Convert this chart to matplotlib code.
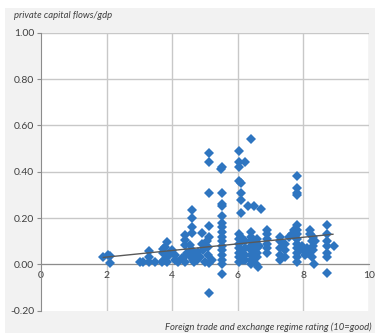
import numpy as np
import matplotlib
matplotlib.use("Agg")
from matplotlib import pyplot as plt
from matplotlib.patches import Rectangle

# trade regime rating (x) vs private capital flows / gdp (y), grouped by column
x_rating = [
    1.90, 2.05, 2.10, 2.10,
    3.02, 3.12, 3.30, 3.30, 3.30, 3.48, 3.68, 3.73, 3.78, 3.83, 3.72, 3.83, 3.93, 3.85, 3.75, 3.90, 4.00, 4.09, 4.19, 4.29, 4.10,
    4.39, 4.39, 4.39, 4.35, 4.40, 4.45,
    4.59, 4.59, 4.59, 4.59, 4.55, 4.59, 4.55, 4.65, 4.62, 4.70,
    4.80, 4.90, 4.85, 5.00, 4.95, 4.75, 4.90,
    5.12, 5.12, 5.12, 5.12, 5.12, 5.10, 5.10, 5.20, 5.12, 5.12, 5.05,
    5.51, 5.49, 5.51, 5.51, 5.51, 5.51, 5.51, 5.51, 5.51, 5.51, 5.51, 5.51, 5.51, 5.51, 5.51, 5.51, 5.51,
    6.03, 6.03, 6.03, 6.23, 6.41, 6.03, 6.10, 6.10, 6.10, 6.10, 6.30, 6.50, 6.71,
    6.03, 6.03, 6.03, 6.03, 6.03, 6.03, 6.03, 6.10, 6.10, 6.15,
    6.23, 6.23, 6.23, 6.23, 6.41, 6.41, 6.41, 6.41, 6.41, 6.41, 6.41, 6.41,
    6.60, 6.60, 6.60, 6.60, 6.60, 6.63, 6.55, 6.65,
    6.90, 6.90, 6.90, 6.90, 6.90, 6.90,
    7.30, 7.30, 7.30, 7.30, 7.30, 7.45, 7.45, 7.45, 7.55, 7.65, 7.70,
    7.80, 7.80, 7.80, 7.80, 7.80, 7.80, 7.80, 7.80, 7.80, 7.80, 7.80, 7.80, 7.80, 7.75,
    7.95, 8.00, 8.05, 8.10, 8.15, 8.20, 8.20, 8.25, 8.30, 8.30, 8.30, 8.35, 8.31, 8.25,
    8.72, 8.72, 8.72, 8.72, 8.72, 8.72, 8.93, 8.72,
]
y_flows = [
    0.033, 0.040, 0.035, 0.004,
    0.010, 0.010, 0.057, 0.033, 0.010, 0.010, 0.010, 0.047, 0.076, 0.098, 0.065, 0.030, 0.055, 0.010, 0.020, 0.040, 0.060, 0.040, 0.010, 0.026, 0.020,
    0.127, 0.105, 0.085, 0.030, 0.010, 0.050,
    0.235, 0.200, 0.160, 0.134, 0.083, 0.060, 0.035, 0.010, 0.020, 0.045,
    0.055, 0.134, 0.030, 0.010, 0.060, 0.020, 0.090,
    0.480, 0.440, 0.310, 0.165, 0.120, 0.075, 0.040, 0.020, 0.005, -0.125, 0.100,
    0.420, 0.410, 0.310, 0.260, 0.250, 0.210, 0.180, 0.160, 0.140, 0.120, 0.100, 0.080, 0.060, 0.040, 0.020, 0.000, -0.040,
    0.490, 0.440, 0.420, 0.440, 0.540, 0.360, 0.350, 0.310, 0.280, 0.220, 0.250, 0.250, 0.240,
    0.130, 0.110, 0.090, 0.070, 0.050, 0.030, 0.010, 0.120, 0.060, 0.020,
    0.100, 0.070, 0.040, 0.020, 0.140, 0.120, 0.100, 0.080, 0.060, 0.040, 0.020, 0.000,
    0.110, 0.090, 0.070, 0.050, 0.030, -0.010, 0.000, 0.080,
    0.150, 0.130, 0.110, 0.090, 0.070, 0.050,
    0.120, 0.100, 0.070, 0.040, 0.020, 0.090, 0.060, 0.030, 0.120, 0.130, 0.150,
    0.380, 0.330, 0.310, 0.300, 0.170, 0.150, 0.130, 0.110, 0.090, 0.070, 0.050, 0.030, 0.010, 0.120,
    0.080, 0.060, 0.040, 0.070, 0.050, 0.150, 0.130, 0.100, 0.120, 0.080, 0.060, 0.100, 0.000, 0.030,
    0.170, 0.130, 0.100, 0.080, 0.050, 0.030, 0.080, -0.036,
]

# trend line end points
trend_x = [1.90, 8.90]
trend_y = [0.030, 0.130]

x_ticks = [0, 2, 4, 6, 8, 10]
y_ticks = [-0.2, 0.0, 0.2, 0.4, 0.6, 0.8, 1.0]

plt.rcParams['font.family'] = ['Lato', 'DejaVu Sans']

fig = plt.figure(figsize=(3.84, 3.33), dpi=100)
fig.patch.set_facecolor('white')
panel = Rectangle((5 / 384, 0), 370 / 384, 1 - 8 / 333, transform=fig.transFigure,
                  facecolor='#f2f2f2', edgecolor='none', zorder=-5)
fig.add_artist(panel)

ax = fig.add_axes([41 / 384, 1 - 310.7 / 333, 328 / 384, 278 / 333])
ax.set_zorder(2)
ax.set_facecolor('white')
ax.set_xlim(0, 10)
ax.set_ylim(-0.2, 1.0)

grid_col = '#c8c8c8'
for yv in y_ticks[1:]:
    ax.axhline(yv, color=grid_col, lw=1, zorder=1)
for xv in x_ticks[1:]:
    ax.axvline(xv, color=grid_col, lw=1, zorder=1)

for side in ['top', 'right']:
    ax.spines[side].set_visible(False)
ax.spines['bottom'].set_position(('data', 0))
ax.spines['bottom'].set_color('#8c8c8c')
ax.spines['left'].set_color('#8c8c8c')
ax.spines['bottom'].set_zorder(2)

ax.set_xticks(x_ticks)
ax.set_xticklabels([str(v) for v in x_ticks])
ax.set_yticks(y_ticks)
ax.set_yticklabels(['%.2f' % v for v in y_ticks])
ax.tick_params(axis='y', length=3, width=0.8, color='#8c8c8c', labelsize=7.5, labelcolor='#404040', pad=2)
ax.tick_params(axis='x', length=0, labelsize=7.5, labelcolor='#404040', pad=5)

ax.plot(x_rating, y_flows, linestyle='none', marker='D', markersize=4.8,
        color='#2e75c0', markeredgewidth=0, zorder=3)

ax.plot(trend_x, trend_y, color='#595959', lw=1, zorder=4)

fig.text(14 / 384, 1 - 15 / 333, 'private capital flows/gdp', fontsize=6.8, style='italic',
         color='#404040', va='center', ha='left')
fig.text(372 / 384, 1 - 327 / 333, 'Foreign trade and exchange regime rating (10=good)', fontsize=6.8,
         style='italic', color='#404040', va='center', ha='right')

fig.savefig('out.png', dpi=100)
